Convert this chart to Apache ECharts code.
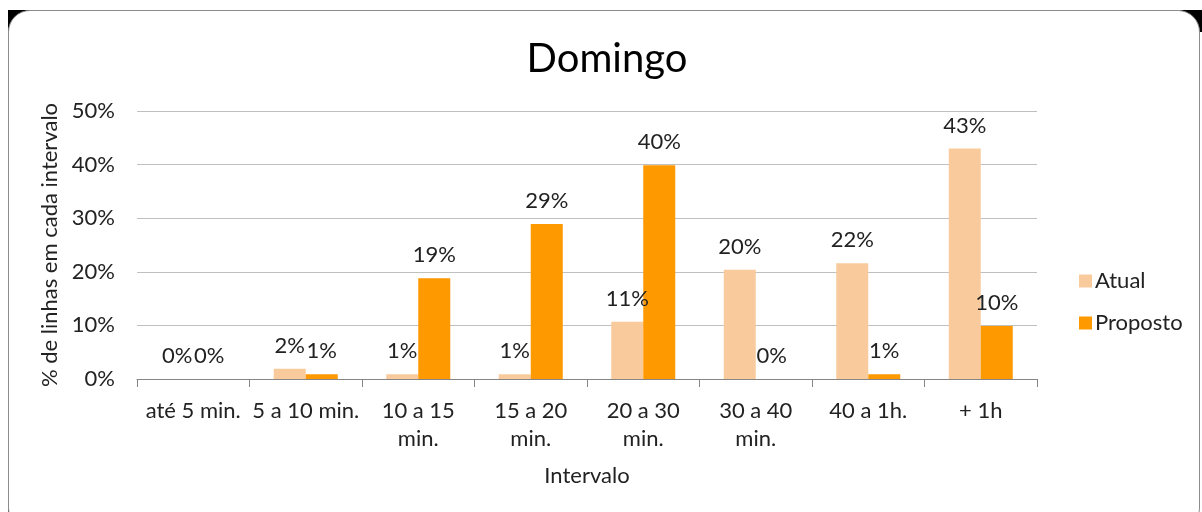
<!DOCTYPE html>
<html>
<head>
<meta charset="utf-8">
<script src="https://cdn.jsdelivr.net/npm/echarts@6/dist/echarts.min.js"></script>
<style>
  html, body { margin: 0; padding: 0; background: #ffffff; }
  #stage { position: relative; width: 1202px; height: 512px; overflow: hidden; }
  .corner { position: absolute; width: 22px; height: 22px; background: #000; }
  #frame {
    position: absolute; left: 8px; top: 10px; width: 1192px; height: 520px;
    box-sizing: border-box; border: 1px solid #8c8c8c; border-radius: 22px; background: #fff;
  }
  #chart { position: absolute; left: 0; top: 0; width: 1202px; height: 512px; }
</style>
</head>
<body>
<div id="stage">
  <div class="corner" style="left:8px;top:10px"></div>
  <div class="corner" style="left:1180px;top:10px"></div>
  <div class="corner" style="left:8px;top:498px"></div>
  <div id="frame"></div>
  <div id="chart"></div>
</div>
<script>
// Share of bus lines per headway interval (Sunday)
const categories = ['até 5 min.', '5 a 10 min.', '10 a 15\nmin.', '15 a 20\nmin.', '20 a 30\nmin.', '30 a 40\nmin.', '40 a 1h.', '+ 1h'];
const atual =    [0, 1.9, 0.9, 0.9, 10.7, 20.4, 21.6, 43.0];
const proposto = [0, 0.9, 18.8, 28.9, 39.9, 0, 0.9, 9.9];
const yTicks = [0, 10, 20, 30, 40, 50];

const FONT = 'Lato, "Open Sans", "Liberation Sans", sans-serif';
const FS = 22;
const chart = echarts.init(document.getElementById('chart'), null, { renderer: 'canvas' });

const labelStyle = {
  show: true,
  position: 'top',
  distance: 12,
  color: '#222',
  fontFamily: FONT,
  fontSize: FS,
  formatter: p => Math.round(p.value) + '%'
};

chart.setOption({
  backgroundColor: 'transparent',
  animation: false,
  title: {
    text: 'Domingo',
    left: 602,
    top: 34,
    textAlign: 'center',
    textStyle: { fontFamily: FONT, fontSize: 40, fontWeight: 'normal', color: '#000' }
  },
  legend: {
    orient: 'vertical',
    left: 1074,
    top: 265,
    itemWidth: 13,
    itemHeight: 13,
    itemGap: 20,
    icon: 'rect',
    textStyle: { fontFamily: FONT, fontSize: FS, color: '#222', padding: [0, 0, 0, -2] },
    data: ['Atual', 'Proposto']
  },
  grid: { left: 137, right: 165, top: 111, bottom: 133, containLabel: false },
  xAxis: {
    type: 'category',
    data: categories,
    name: 'Intervalo',
    nameLocation: 'middle',
    nameGap: 86,
    nameTextStyle: { fontFamily: FONT, fontSize: FS, color: '#222' },
    axisLine: { lineStyle: { color: '#868686', width: 1 } },
    axisTick: { show: true, length: 8, alignWithLabel: false, lineStyle: { color: '#868686' } },
    axisLabel: { fontFamily: FONT, fontSize: FS, color: '#222', margin: 18, lineHeight: 28, interval: 0 }
  },
  yAxis: {
    type: 'value',
    min: yTicks[0],
    max: yTicks[yTicks.length - 1],
    interval: 10,
    name: '% de linhas em cada intervalo',
    nameLocation: 'middle',
    nameGap: 66,
    nameTextStyle: { fontFamily: FONT, fontSize: FS, color: '#222' },
    axisLine: { show: false },
    axisTick: { show: false },
    axisLabel: { fontFamily: FONT, fontSize: FS, color: '#222', margin: 22, formatter: v => v + '%' },
    splitLine: { lineStyle: { color: '#c0c0c0', width: 1 } }
  },
  series: [
    {
      name: 'Atual', type: 'bar', data: atual,
      itemStyle: { color: '#f9cb9c' },
      barWidth: 32, barGap: '0%',
      label: labelStyle
    },
    {
      name: 'Proposto', type: 'bar', data: proposto,
      itemStyle: { color: '#ff9900' },
      barWidth: 32, barGap: '0%',
      label: labelStyle
    }
  ]
});
</script>
</body>
</html>
